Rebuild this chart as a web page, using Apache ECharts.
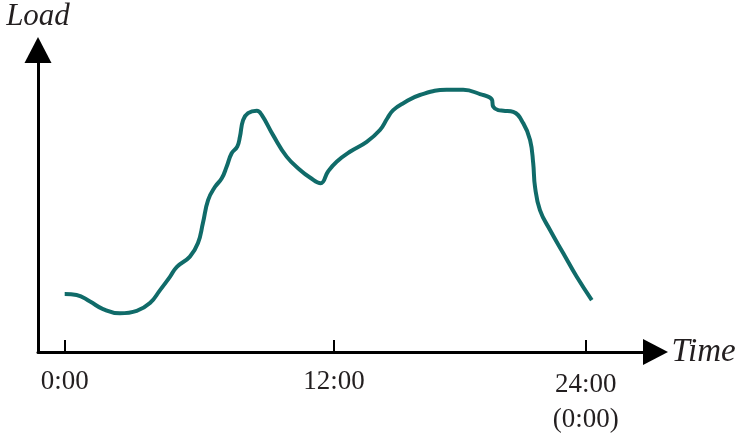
<!DOCTYPE html>
<html>
<head>
<meta charset="utf-8">
<script src="https://cdn.jsdelivr.net/npm/echarts@6/dist/echarts.min.js"></script>
<style>
  html, body { margin: 0; padding: 0; background: #fff; }
  #chart { width: 742px; height: 438px; }
</style>
</head>
<body>
<div id="chart"></div>
<script>
  // hours (x)
  var hours = [0, 0.53, 1.13, 1.71, 2.46, 3.21, 3.8, 4.25, 4.69, 5.0, 5.58, 5.94, 6.16, 6.39, 6.7, 7.0, 7.22, 7.44, 7.69, 7.81, 7.95, 8.17, 8.56, 8.78, 9.28, 9.89, 10.49, 10.93, 11.41, 11.73, 12.12, 12.71, 13.46, 14.05, 14.38, 14.64, 15.09, 15.83, 17.02, 17.76, 18.51, 19.03, 19.1, 19.32, 19.55, 19.99, 20.44, 20.74, 20.88, 20.96, 21.18, 21.63, 22.22, 22.82, 23.49];
  // load (relative)
  var load = [19.2, 18.9, 16.7, 14.2, 12.8, 13.6, 16.2, 20.5, 24.9, 28.2, 31.6, 36.1, 42.7, 50.3, 54.7, 57.5, 61.4, 65.8, 68.0, 71.3, 76.8, 79.1, 79.9, 78.5, 71.9, 64.7, 60.3, 57.8, 55.9, 59.7, 63.0, 66.3, 69.6, 73.5, 77.4, 80.1, 82.4, 85.1, 86.8, 86.8, 85.4, 83.7, 81.2, 80.1, 79.9, 79.5, 75.7, 70.2, 62.5, 54.7, 47.0, 40.4, 32.7, 24.9, 17.2];
  // tick positions on the time axis and their labels
  var tickValues = [0, 12, 23.22];
  var tickLabels = ['0:00', '12:00', '24:00\n(0:00)'];

  var chart = echarts.init(document.getElementById('chart'));
  var serif = '"Liberation Serif", "DejaVu Serif", serif';

  chart.setOption({
    animation: false,
    grid: {
      left: 38,
      right: 86.5,
      top: 50,
      bottom: 86,
      containLabel: false,
      outerBoundsMode: 'none'
    },
    xAxis: {
      type: 'value',
      min: -1.19,
      max: 26.33,
      name: 'Time',
      nameLocation: 'end',
      nameGap: 16,
      nameMoveOverlap: false,
      nameTextStyle: {
        fontFamily: serif,
        fontStyle: 'italic',
        fontSize: 33,
        color: '#231f20',
        padding: [16, 0, 0, 0]
      },
      axisLine: {
        onZero: false,
        symbol: ['none', 'triangle'],
        symbolSize: [26, 25],
        lineStyle: { color: '#000', width: 3 }
      },
      axisTick: {
        show: true,
        inside: true,
        length: 12,
        customValues: tickValues,
        lineStyle: { color: '#000', width: 2 }
      },
      axisLabel: {
        customValues: tickValues,
        margin: 12,
        fontFamily: serif,
        fontSize: 27,
        lineHeight: 35,
        color: '#231f20',
        formatter: function (v) {
          var i = tickValues.indexOf(v);
          if (i === 2) {
            return '{b|24:00}\n{b|(0:00)}';
          }
          return i >= 0 ? tickLabels[i] : '';
        },
        rich: {
          b: {
            fontFamily: serif,
            fontSize: 27,
            lineHeight: 35,
            color: '#231f20',
            padding: [7, 0, 0, 0]
          }
        }
      },
      splitLine: { show: false }
    },
    yAxis: {
      type: 'value',
      min: 0,
      max: 100,
      name: 'Load',
      nameLocation: 'end',
      nameGap: 18,
      nameMoveOverlap: false,
      nameTextStyle: {
        fontFamily: serif,
        fontStyle: 'italic',
        fontSize: 31,
        color: '#231f20'
      },
      axisLine: {
        show: true,
        onZero: false,
        symbol: ['none', 'triangle'],
        symbolSize: [27, 26],
        lineStyle: { color: '#000', width: 3 }
      },
      axisTick: { show: false },
      axisLabel: { show: false },
      splitLine: { show: false }
    },
    series: [{
      type: 'line',
      data: hours.map(function (h, i) { return [h, load[i]]; }),
      smooth: 0.45,
      showSymbol: false,
      lineStyle: { color: '#106b69', width: 4 }
    }]
  });
</script>
</body>
</html>
